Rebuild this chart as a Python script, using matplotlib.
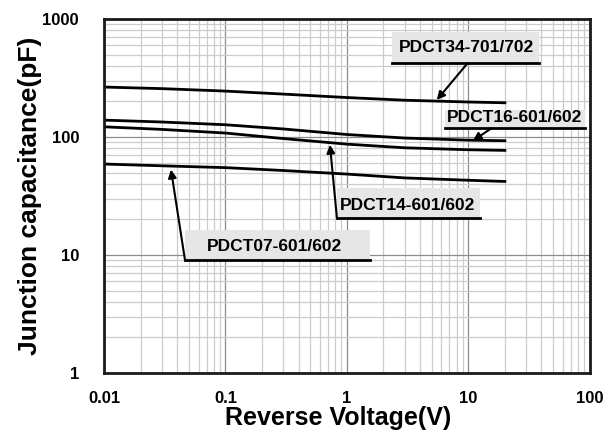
import matplotlib.pyplot as plt
import matplotlib.patches as patches
import matplotlib

matplotlib.rcParams['font.family'] = ['Liberation Sans', 'DejaVu Sans']
matplotlib.rcParams['font.weight'] = 'bold'

# reverse voltage (V)
voltage = [0.01, 0.03, 0.1, 0.3, 1, 3, 10, 20]

# junction capacitance (pF) for each part
cap_34 = [265, 257, 245, 231, 216, 205, 198, 195]
cap_16 = [139, 134, 127, 117, 105, 98, 94, 93]
cap_14 = [122, 116, 108, 97, 87, 81, 78, 77]
cap_07 = [59, 57, 55, 52, 48.5, 45, 43, 42]

curves = [cap_34, cap_16, cap_14, cap_07]

# label text, text centre, box (x0, x1, underline y, top y), arrow tail, arrow head
labels = [
    ('PDCT34-701/702', (9.6, 568), (2.34, 38, 424, 776), (9.9, 424), (5.5, 206)),
    ('PDCT16-601/602', (24, 145), (6.41, 91, 119, 169), (15.6, 119), (10.9, 93)),
    ('PDCT14-601/602', (3.17, 26.5), (0.828, 12.5, 20.6, 37), (0.828, 20.6), (0.725, 86)),
    ('PDCT07-601/602', (0.255, 11.9), (0.0464, 1.55, 9.1, 16.3), (0.0464, 9.1), (0.0356, 53)),
]

fig = plt.figure(figsize=(6.03, 4.32), dpi=100)
ax = fig.add_axes([0.1725, 0.1366, 0.8055, 0.8194])

for c in curves:
    ax.plot(voltage, c, color='black', lw=2, zorder=3)

ax.set_xscale('log')
ax.set_yscale('log')
ax.set_xlim(0.01, 100)
ax.set_ylim(1, 1000)

# grid
ax.grid(which='major', color='#8c8c8c', lw=0.9)
ax.grid(which='minor', color='#cccccc', lw=0.9)
ax.set_axisbelow(True)

for s in ax.spines.values():
    s.set_linewidth(2)
    s.set_color('#1a1a1a')
    s.set_zorder(6)

ax.set_xticks([0.01, 0.1, 1, 10, 100])
ax.set_xticklabels(['0.01', '0.1', '1', '10', '100'])
ax.set_yticks([1, 10, 100, 1000])
ax.set_yticklabels(['1', '10', '100', '1000'])
ax.tick_params(which='both', length=0)
ax.tick_params(axis='x', pad=13, labelsize=12)
ax.tick_params(axis='y', pad=18, labelsize=12)

ax.set_xlabel('Reverse Voltage(V)', fontsize=18, fontweight='bold')
ax.xaxis.set_label_coords(0.481, -0.092)
ax.set_ylabel('Junction capacitance(pF)', fontsize=19, fontweight='bold', labelpad=0)

for text, tpos, box, tail, head in labels:
    x0, x1, yu, yt = box
    ax.add_patch(patches.Rectangle((x0, yu), x1 - x0, yt - yu,
                                   facecolor='#e6e6e6', edgecolor='none', zorder=4))
    ax.text(tpos[0], tpos[1], text, ha='center', va='center', fontsize=12.5,
            fontweight='bold', zorder=5)
    ax.plot([x0, x1], [yu, yu], color='black', lw=2, zorder=5)
    ax.annotate('', xy=head, xytext=tail,
                arrowprops=dict(arrowstyle='-|>', color='black', lw=1.5,
                                mutation_scale=12, shrinkA=0, shrinkB=0),
                zorder=5)

plt.savefig('out.png', dpi=100)
